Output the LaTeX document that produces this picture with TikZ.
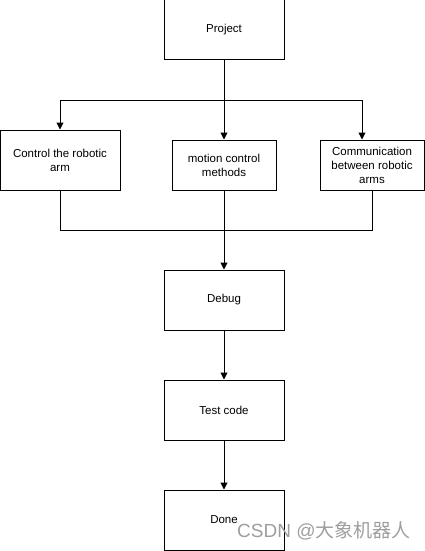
\documentclass[tikz,border=0pt]{standalone}
\usepackage{fontspec}
\setmainfont{Liberation Sans}
\newfontfamily\cjk{Noto Sans CJK SC}
\usetikzlibrary{arrows.meta}
\begin{document}
\begin{tikzpicture}[x=1pt,y=-1pt,
  box/.style={draw=black,line width=1pt,fill=white,inner sep=0pt,align=center,
    font=\fontsize{11.5}{14}\selectfont},
  conn/.style={draw=black,line width=1pt},
  arr/.style={conn,-{Triangle[length=7pt,width=7pt]}}]
\useasboundingbox (0,0) rectangle (425,551);
\node[box,minimum width=120pt,minimum height=60pt] (proj) at (224,30) {Project};
\node[box,minimum width=120pt,minimum height=60pt] (ctrl) at (60,160) {Control the robotic\\arm};
\node[box,minimum width=104pt,minimum height=50pt] (mot) at (224,165) {motion control\\methods};
\node[box,minimum width=104pt,minimum height=50pt] (comm) at (372,165) {Communication\\between robotic\\arms};
\node[box,minimum width=120pt,minimum height=60pt] (dbg) at (224,300) {Debug};
\node[box,minimum width=120pt,minimum height=60pt] (test) at (224,410) {Test code};
\node[box,minimum width=120pt,minimum height=60pt] (done) at (224,520) {Done};
\coordinate (split) at (224,100);
\coordinate (join) at (224,230);
\draw[arr] (proj.south) -- (mot.north);
\draw[arr] (split) -| (ctrl.north);
\draw[arr] (split) -| ([xshift=-10pt]comm.north);
\draw[conn] (ctrl.south) |- (join);
\draw[conn] (comm.south) |- (join);
\draw[arr] (mot.south) -- (dbg.north);
\draw[arr] (dbg.south) -- (test.north);
\draw[arr] (test.south) -- (done.north);
\node[anchor=base west,inner sep=0pt,text=black!38,font=\fontsize{19}{20}\selectfont] (wm) at (237,537) {CSDN @{\cjk 大象机器人}};
\end{tikzpicture}
\end{document}
